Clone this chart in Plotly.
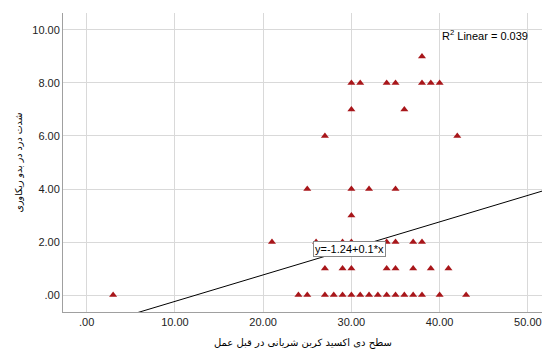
import plotly.graph_objects as go

# Data
co2_before = [3,
              24, 25, 27, 28, 29, 30, 31, 32, 33, 34, 35, 36, 37, 38, 40, 43,
              27, 29, 30, 34, 35, 37, 39, 41,
              21, 26, 29, 30, 34, 35, 37, 38,
              30,
              25, 30, 32, 35,
              27, 42,
              30, 36,
              30, 31, 34, 35, 38, 39, 40,
              38]
pain_recovery = [0,
                 0, 0, 0, 0, 0, 0, 0, 0, 0, 0, 0, 0, 0, 0, 0, 0,
                 1, 1, 1, 1, 1, 1, 1, 1,
                 2, 2, 2, 2, 2, 2, 2, 2,
                 3,
                 4, 4, 4, 4,
                 6, 6,
                 7, 7,
                 8, 8, 8, 8, 8, 8, 8,
                 9]

fit_intercept = -1.24
fit_slope = 0.1
r2_linear = 0.039

x_tickvals = [0, 10, 20, 30, 40, 50]
x_ticktext = [".00", "10.00", "20.00", "30.00", "40.00", "50.00"]
y_tickvals = [0, 2, 4, 6, 8, 10]
y_ticktext = [".00", "2.00", "4.00", "6.00", "8.00", "10.00"]

x_title = "سطح دی اکسید کربن شریانی در قبل عمل"
y_title = "شدت درد در بدو ریکاوری"

x_range = [-2.68, 51.6]
y_range = [-0.64, 10.64]

line_x = x_range
line_y = [fit_intercept + fit_slope * v for v in line_x]

fig = go.Figure()
fig.add_trace(go.Scatter(
    x=line_x, y=line_y, mode="lines",
    line=dict(color="#000000", width=1), hoverinfo="skip", showlegend=False))
fig.add_trace(go.Scatter(
    x=co2_before, y=pain_recovery, mode="markers",
    marker=dict(symbol="triangle-up", size=7, color="#a8161a"),
    showlegend=False))

fig.add_annotation(
    x=29.8, y=1.72, xref="x", yref="y",
    text=f"y={fit_intercept}+{fit_slope}*x", showarrow=False,
    font=dict(family="Liberation Sans, Arial", size=11, color="#000000"),
    bgcolor="#ffffff", bordercolor="#888888", borderwidth=1, borderpad=1)
fig.add_annotation(
    x=45.1, y=9.8, xref="x", yref="y",
    text=f"R<sup>2</sup> Linear = {r2_linear}", showarrow=False,
    font=dict(family="Liberation Sans, Arial", size=11, color="#000000"))

# axis titles
fig.add_annotation(
    x=0.5, y=0, xref="paper", yref="paper", yshift=-31,
    xanchor="center", yanchor="middle", text=x_title, showarrow=False,
    font=dict(family="DejaVu Sans", size=10, color="#000000"))
fig.add_annotation(
    x=0, y=0.5, xref="paper", yref="paper", xshift=-45,
    xanchor="center", yanchor="middle", textangle=-90, text=y_title, showarrow=False,
    font=dict(family="DejaVu Sans", size=9.5, color="#000000"))

axis_common = dict(
    showgrid=True, gridcolor="#d9d9d9", gridwidth=1, automargin=False,
    zeroline=False, showline=True, linecolor="#a0a0a0", linewidth=1,
    ticks="", tickfont=dict(family="Liberation Sans, Arial", size=11, color="#222222"))

fig.update_xaxes(range=x_range, tickvals=x_tickvals, ticktext=x_ticktext, **axis_common)
fig.update_yaxes(range=y_range, tickvals=y_tickvals, ticktext=y_ticktext, **axis_common)

fig.update_layout(
    width=542, height=350,
    margin=dict(l=63, r=0, t=13, b=38),
    paper_bgcolor="#ffffff", plot_bgcolor="#ffffff",
)

fig.write_html("out.html", config={"displayModeBar": False},
               post_script="document.body.style.margin='0';document.body.style.overflow='hidden';")
